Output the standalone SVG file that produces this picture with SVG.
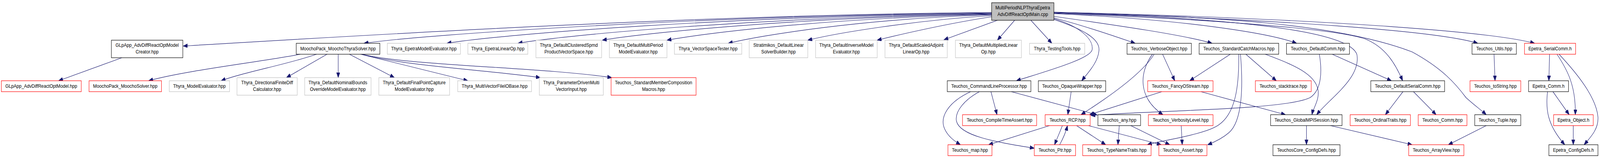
<svg xmlns="http://www.w3.org/2000/svg" width="4726" height="405" viewBox="0 0 4726 405" preserveAspectRatio="none" style="width:100vw;height:100vh;display:block">
<defs>
<marker id="ah" markerUnits="userSpaceOnUse" markerWidth="13" markerHeight="10" refX="13" refY="5" orient="auto">
<path d="M0,0 L13,5 L0,10 z" fill="#191970" stroke="#191970" stroke-width="1"/>
</marker>
</defs>
<style>
.e path{fill:none;stroke:#191970;stroke-width:1.2;marker-end:url(#ah)}
rect{fill:#ffffff;stroke-width:1.2}
.b rect{stroke:#000000}
.r rect{stroke:#ff0000}
.g rect{stroke:#bfbfbf}
.m rect{fill:#bfbfbf;stroke:#000000}
text{font-family:"Liberation Sans",Arial,sans-serif;font-size:13px;fill:#000000;text-anchor:middle}
</style>
<rect x="0" y="0" width="4726" height="405" fill="#ffffff" stroke="none"/>

<g id="edges" class="e">
<path d="M2929,32 C2000,38 900,100 541,118"/>
<path d="M2929,33 C2100,40 1250,88 1075,111"/>
<path d="M2929,34 C2150,42 1480,88 1320,111"/>
<path d="M2929,35 C2250,44 1660,90 1530,111"/>
<path d="M2929,36 C2350,45 1900,85 1779,103"/>
<path d="M2929,37 C2450,46 2080,85 1970,103"/>
<path d="M2929,38 C2550,48 2250,90 2151,111"/>
<path d="M2929,40 C2700,52 2470,85 2386,103"/>
<path d="M2929,43 C2800,60 2660,88 2591,103"/>
<path d="M2946,52 L2788,102"/>
<path d="M2997,52 L2946,103"/>
<path d="M3045,52 L3107,111"/>
<path d="M3113,48 C3190,68 3230,100 3226,127 C3222,150 3100,180 3002,207"/>
<path d="M3113,50 C3200,75 3250,100 3246,130 C3243,160 3215,185 3195,207"/>
<path d="M3113,46 C3200,65 3300,95 3353,111"/>
<path d="M3113,42 C3300,65 3500,90 3580,111"/>
<path d="M3113,35 C3500,50 3750,85 3830,111"/>
<path d="M3113,33 C3600,45 3985,75 4008,140 C4020,200 3930,250 3889,294"/>
<path d="M3113,34 C3600,50 3950,75 4033,100 C4090,120 4120,160 4143,207"/>
<path d="M3113,33 C3600,42 3950,60 4171,133 C4260,175 4300,215 4330,250 C4355,270 4375,282 4390,294"/>
<path d="M3113,32 C3800,50 4250,80 4365,111"/>
<path d="M3113,31 C3900,48 4400,80 4533,111"/>
<path d="M360,148 L173,207"/>
<path d="M887,139 C800,155 550,180 439,207"/>
<path d="M935,139 C850,165 720,185 653,207"/>
<path d="M966,139 L846,199"/>
<path d="M999,139 L999,199"/>
<path d="M1032,139 L1165,199"/>
<path d="M1065,139 L1382,207"/>
<path d="M1068,139 C1200,170 1450,180 1596,199"/>
<path d="M1070,139 C1200,168 1600,172 1807,199"/>
<path d="M2867,235 C2800,262 2775,300 2790,330 C2800,350 2820,362 2837,371"/>
<path d="M2893,235 C2850,255 2820,285 2825,310 C2835,350 2950,365 3055,380"/>
<path d="M2927,235 L2945,294"/>
<path d="M2987,235 L3240,294"/>
<path d="M3164,235 L3154,294"/>
<path d="M3100,322 L2920,371"/>
<path d="M3138,322 C3130,340 3122,355 3115,371"/>
<path d="M3130,371 C3140,355 3148,340 3153,322"/>
<path d="M3180,322 L3266,371"/>
<path d="M3215,322 L3430,371"/>
<path d="M3306,322 L3302,371"/>
<path d="M3340,322 L3455,371"/>
<path d="M3489,322 L3492,371"/>
<path d="M3434,139 L3470,207"/>
<path d="M3409,139 C3380,180 3300,235 3193,294"/>
<path d="M3404,139 C3365,185 3360,250 3435,294"/>
<path d="M3634,139 L3514,207"/>
<path d="M3680,139 L3770,207"/>
<path d="M3659,139 C3660,220 3650,290 3600,320 C3560,345 3430,360 3389,371"/>
<path d="M3664,139 C3672,220 3670,310 3630,340 C3610,355 3585,365 3567,371"/>
<path d="M3737,139 C3820,165 3885,190 3893,230 C3898,255 3880,275 3875,294"/>
<path d="M3432,235 L3218,294"/>
<path d="M3547,235 L3797,294"/>
<path d="M3897,139 C3905,180 3905,230 3870,250 C3800,282 3400,283 3222,296"/>
<path d="M3935,139 L4110,207"/>
<path d="M3859,322 L3859,371"/>
<path d="M3930,322 L4171,371"/>
<path d="M4144,235 L4092,294"/>
<path d="M4175,235 L4242,294"/>
<path d="M4390,322 L4278,371"/>
<path d="M4413,139 L4416,207"/>
<path d="M4577,139 L4575,207"/>
<path d="M4599,139 C4630,180 4655,220 4653,294"/>
<path d="M4605,139 C4660,190 4715,250 4720,300 C4722,330 4700,350 4679,371"/>
<path d="M4587,235 L4635,294"/>
<path d="M4571,235 C4565,280 4570,320 4622,371"/>
<path d="M4647,322 L4647,371"/>
</g>

<g id="main" class="m"><rect x="2929" y="7" width="184" height="45"/><text x="3021" y="24.5">MultiPeriodNLPThyraEpetra</text><text x="3021" y="41">AdvDiffReactOptMain.cpp</text></g>

<g id="n_creator" class="b"><rect x="329" y="103" width="211" height="45"/><text x="434.5" y="120.5">GLpApp_AdvDiffReactOptModel</text><text x="434.5" y="137">Creator.hpp</text></g>
<g id="n_mts" class="b"><rect x="875" y="111" width="247" height="28"/><text x="998.5" y="129.5">MoochoPack_MoochoThyraSolver.hpp</text></g>
<g id="n_eme" class="g"><rect x="1144" y="111" width="216" height="28"/><text x="1252" y="129.5">Thyra_EpetraModelEvaluator.hpp</text></g>
<g id="n_elo" class="g"><rect x="1382" y="111" width="177" height="28"/><text x="1470.5" y="129.5">Thyra_EpetraLinearOp.hpp</text></g>
<g id="n_cspmd" class="g"><rect x="1583" y="103" width="194" height="45"/><text x="1680" y="120.5">Thyra_DefaultClusteredSpmd</text><text x="1680" y="137">ProductVectorSpace.hpp</text></g>
<g id="n_mp" class="g"><rect x="1800" y="103" width="170" height="45"/><text x="1885" y="120.5">Thyra_DefaultMultiPeriod</text><text x="1885" y="137">ModelEvaluator.hpp</text></g>
<g id="n_vst" class="g"><rect x="1992" y="111" width="199" height="28"/><text x="2091.5" y="129.5">Thyra_VectorSpaceTester.hpp</text></g>
<g id="n_strat" class="g"><rect x="2213" y="103" width="173" height="45"/><text x="2299.5" y="120.5">Stratimikos_DefaultLinear</text><text x="2299.5" y="137">SolverBuilder.hpp</text></g>
<g id="n_inv" class="g"><rect x="2409" y="103" width="182" height="45"/><text x="2500" y="120.5">Thyra_DefaultInverseModel</text><text x="2500" y="137">Evaluator.hpp</text></g>
<g id="n_sal" class="g"><rect x="2614" y="103" width="184" height="45"/><text x="2706" y="120.5">Thyra_DefaultScaledAdjoint</text><text x="2706" y="137">LinearOp.hpp</text></g>
<g id="n_mlo" class="g"><rect x="2822" y="103" width="195" height="45"/><text x="2919.5" y="120.5">Thyra_DefaultMultipliedLinear</text><text x="2919.5" y="137">Op.hpp</text></g>
<g id="n_tt" class="g"><rect x="3041" y="111" width="163" height="28"/><text x="3122.5" y="129.5">Thyra_TestingTools.hpp</text></g>
<g id="n_vo" class="b"><rect x="3329" y="111" width="190" height="28"/><text x="3424" y="129.5">Teuchos_VerboseObject.hpp</text></g>
<g id="n_scm" class="b"><rect x="3542" y="111" width="235" height="28"/><text x="3659.5" y="129.5">Teuchos_StandardCatchMacros.hpp</text></g>
<g id="n_dc" class="b"><rect x="3800" y="111" width="186" height="28"/><text x="3893" y="129.5">Teuchos_DefaultComm.hpp</text></g>
<g id="n_utils" class="b"><rect x="4348" y="111" width="131" height="28"/><text x="4413.5" y="129.5">Teuchos_Utils.hpp</text></g>
<g id="n_esc" class="r"><rect x="4503" y="111" width="151" height="28"/><text x="4578.5" y="129.5">Epetra_SerialComm.h</text></g>

<g id="n_glmodel" class="r"><rect x="4" y="207" width="236" height="28"/><text x="122" y="225.5">GLpApp_AdvDiffReactOptModel.hpp</text></g>
<g id="n_ms" class="r"><rect x="263" y="207" width="214" height="28"/><text x="370" y="225.5">MoochoPack_MoochoSolver.hpp</text></g>
<g id="n_me" class="g"><rect x="500" y="207" width="178" height="28"/><text x="589" y="225.5">Thyra_ModelEvaluator.hpp</text></g>
<g id="n_dfd" class="g"><rect x="700" y="199" width="178" height="45"/><text x="789" y="216.5">Thyra_DirectionalFiniteDiff</text><text x="789" y="233">Calculator.hpp</text></g>
<g id="n_nb" class="g"><rect x="900" y="199" width="196" height="45"/><text x="998" y="216.5">Thyra_DefaultNominalBounds</text><text x="998" y="233">OverrideModelEvaluator.hpp</text></g>
<g id="n_fpc" class="g"><rect x="1119" y="199" width="209" height="45"/><text x="1223.5" y="216.5">Thyra_DefaultFinalPointCapture</text><text x="1223.5" y="233">ModelEvaluator.hpp</text></g>
<g id="n_mvfio" class="g"><rect x="1352" y="207" width="218" height="28"/><text x="1461" y="225.5">Thyra_MultiVectorFileIOBase.hpp</text></g>
<g id="n_pdmv" class="g"><rect x="1593" y="199" width="189" height="45"/><text x="1687.5" y="216.5">Thyra_ParameterDrivenMulti</text><text x="1687.5" y="233">VectorInput.hpp</text></g>
<g id="n_smc" class="r"><rect x="1805" y="199" width="251" height="45"/><text x="1930.5" y="216.5">Teuchos_StandardMemberComposition</text><text x="1930.5" y="233">Macros.hpp</text></g>
<g id="n_clp" class="b"><rect x="2798" y="207" width="247" height="28"/><text x="2921.5" y="225.5">Teuchos_CommandLineProcessor.hpp</text></g>
<g id="n_ow" class="b"><rect x="3067" y="207" width="199" height="28"/><text x="3166.5" y="225.5">Teuchos_OpaqueWrapper.hpp</text></g>
<g id="n_fos" class="r"><rect x="3390" y="207" width="193" height="28"/><text x="3486.5" y="225.5">Teuchos_FancyOStream.hpp</text></g>
<g id="n_st" class="r"><rect x="3708" y="207" width="165" height="28"/><text x="3790.5" y="225.5">Teuchos_stacktrace.hpp</text></g>
<g id="n_dsc" class="b"><rect x="4049" y="207" width="218" height="28"/><text x="4158" y="225.5">Teuchos_DefaultSerialComm.hpp</text></g>
<g id="n_ts" class="r"><rect x="4342" y="207" width="150" height="28"/><text x="4417" y="225.5">Teuchos_toString.hpp</text></g>
<g id="n_ec" class="b"><rect x="4515" y="207" width="118" height="28"/><text x="4574" y="225.5">Epetra_Comm.h</text></g>

<g id="n_cta" class="r"><rect x="2843" y="294" width="219" height="28"/><text x="2952.5" y="312.5">Teuchos_CompileTimeAssert.hpp</text></g>
<g id="n_rcp" class="r"><rect x="3087" y="294" width="133" height="28"/><text x="3153.5" y="312.5">Teuchos_RCP.hpp</text></g>
<g id="n_any" class="b"><rect x="3243" y="294" width="126" height="28"/><text x="3306" y="312.5">Teuchos_any.hpp</text></g>
<g id="n_vl" class="r"><rect x="3392" y="294" width="191" height="28"/><text x="3487.5" y="312.5">Teuchos_VerbosityLevel.hpp</text></g>
<g id="n_gmpi" class="b"><rect x="3753" y="294" width="211" height="28"/><text x="3858.5" y="312.5">Teuchos_GlobalMPISession.hpp</text></g>
<g id="n_ot" class="r"><rect x="3988" y="294" width="178" height="28"/><text x="4077" y="312.5">Teuchos_OrdinalTraits.hpp</text></g>
<g id="n_comm" class="r"><rect x="4189" y="294" width="144" height="28"/><text x="4261" y="312.5">Teuchos_Comm.hpp</text></g>
<g id="n_tuple" class="b"><rect x="4356" y="294" width="136" height="28"/><text x="4424" y="312.5">Teuchos_Tuple.hpp</text></g>
<g id="n_eo" class="r"><rect x="4589" y="294" width="117" height="28"/><text x="4647.5" y="312.5">Epetra_Object.h</text></g>

<g id="n_map" class="r"><rect x="2800" y="371" width="130" height="28"/><text x="2865" y="389.5">Teuchos_map.hpp</text></g>
<g id="n_ptr" class="r"><rect x="3055" y="371" width="122" height="28"/><text x="3116" y="389.5">Teuchos_Ptr.hpp</text></g>
<g id="n_tnt" class="r"><rect x="3198" y="371" width="202" height="28"/><text x="3299" y="389.5">Teuchos_TypeNameTraits.hpp</text></g>
<g id="n_assert" class="r"><rect x="3423" y="371" width="142" height="28"/><text x="3494" y="389.5">Teuchos_Assert.hpp</text></g>
<g id="n_tccd" class="b"><rect x="3760" y="371" width="198" height="28"/><text x="3859" y="389.5">TeuchosCore_ConfigDefs.hpp</text></g>
<g id="n_av" class="r"><rect x="4161" y="371" width="163" height="28"/><text x="4242.5" y="389.5">Teuchos_ArrayView.hpp</text></g>
<g id="n_ecd" class="b"><rect x="4575" y="371" width="145" height="28"/><text x="4647.5" y="389.5">Epetra_ConfigDefs.h</text></g>
</svg>
